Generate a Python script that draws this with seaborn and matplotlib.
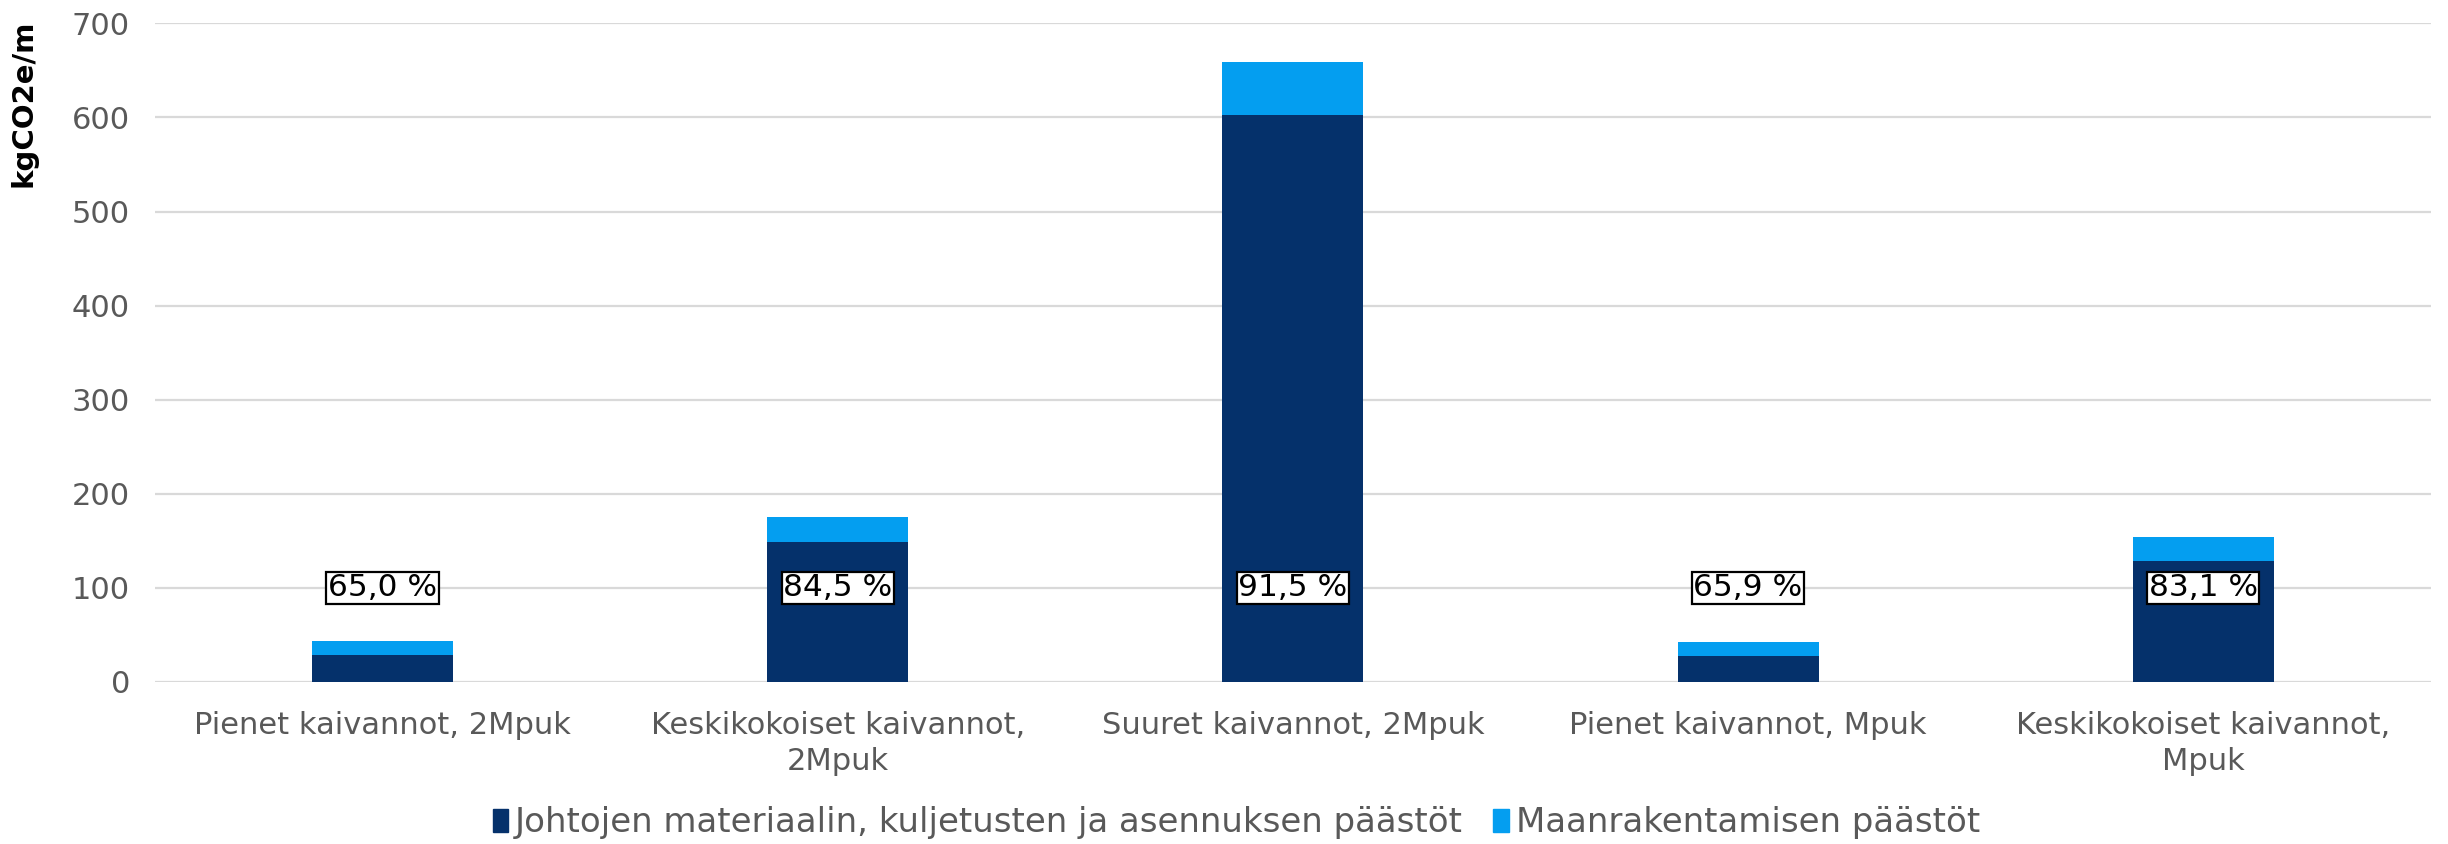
import matplotlib
matplotlib.use('Agg')
import matplotlib.pyplot as plt
import seaborn as sns
import pandas as pd
from matplotlib.patches import Patch

categories = ['Pienet kaivannot, 2Mpuk', 'Keskikokoiset kaivannot,\n2Mpuk',
              'Suuret kaivannot, 2Mpuk', 'Pienet kaivannot, Mpuk',
              'Keskikokoiset kaivannot,\nMpuk']
johdot = [28.3, 148.5, 602.9, 28.0, 128.3]
maanrakennus = [15.2, 27.2, 55.7, 14.5, 26.1]
osuus_labels = ['65,0 %', '84,5 %', '91,5 %', '65,9 %', '83,1 %']
series_names = ['Johtojen materiaalin, kuljetusten ja asennuksen päästöt',
                'Maanrakentamisen päästöt']

dark = '#05316B'
light = '#049EF0'

df = pd.DataFrame({'kategoria': categories, 'johdot': johdot, 'maa': maanrakennus})
df['yht'] = df['johdot'] + df['maa']

sns.set_style('white')
plt.rcParams['font.family'] = ['DejaVu Sans']

fig = plt.figure(figsize=(24.48, 8.44), dpi=100)
ax = fig.add_axes([0.0633, 0.192, 0.9297, 0.7803])

# stacked bars: total first, then the bottom part over it
sns.barplot(data=df, x='kategoria', y='yht', color=light, width=0.31,
            saturation=1, linewidth=0, ax=ax, zorder=2)
sns.barplot(data=df, x='kategoria', y='johdot', color=dark, width=0.31,
            saturation=1, linewidth=0, ax=ax, zorder=3)

ax.set_ylim(0, 700)
ax.set_xlim(-0.5, len(categories) - 0.5)
ax.set_yticks(range(0, 701, 100))
ax.yaxis.grid(True, color='#D9D9D9', lw=1.6, zorder=0)
ax.set_axisbelow(True)
for s in ax.spines.values():
    s.set_visible(False)
ax.tick_params(axis='both', length=0, labelsize=22, colors='#595959')
ax.tick_params(axis='y', pad=18)
ax.tick_params(axis='x', pad=21)
for t in ax.get_xticklabels():
    t.set_linespacing(1.3)
ax.set_xlabel('')
ax.set_ylabel('')

# share labels
for i, lab in enumerate(osuus_labels):
    ax.text(i, 100, lab, ha='center', va='center', fontsize=22.5, color='black', zorder=5,
            bbox=dict(boxstyle='square,pad=0.05', fc='white', ec='black', lw=1.6))

fig.text(0.0095, 0.878, 'kgCO2e/m', rotation=90, ha='center', va='center',
         fontsize=21, fontweight='bold', color='black')

handles = [Patch(color=dark, label=series_names[0]), Patch(color=light, label=series_names[1])]
fig.legend(handles=handles, loc='center', bbox_to_anchor=(0.505, 0.025), ncol=2,
           frameon=False, fontsize=24.5, labelcolor='#595959', handlelength=0.45,
           handleheight=0.7, handletextpad=0.2, columnspacing=0.9)

plt.savefig('out.png', dpi=100)
